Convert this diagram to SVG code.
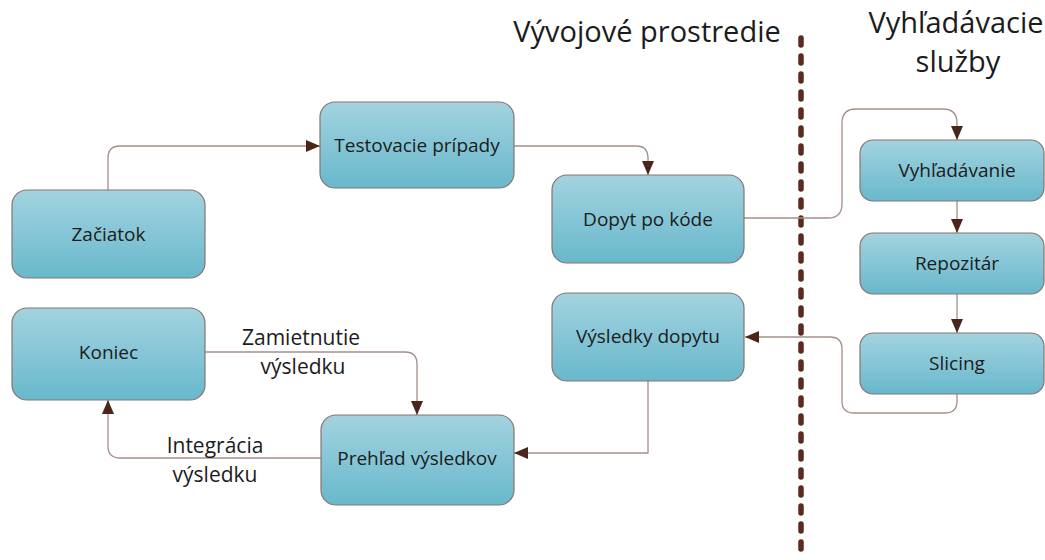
<svg xmlns="http://www.w3.org/2000/svg" width="1045" height="560" viewBox="0 0 1045 560">
  <defs>
    <linearGradient id="boxFill" x1="0" y1="0" x2="0" y2="1">
      <stop offset="0" stop-color="#a3d3df"/>
      <stop offset="1" stop-color="#68b8cc"/>
    </linearGradient>
    <marker id="arrow" viewBox="0 0 14 12" refX="14" refY="6" markerWidth="14" markerHeight="12" markerUnits="userSpaceOnUse" orient="auto">
      <path d="M0,0 L14,6 L0,12 Z" fill="#4b2519"/>
    </marker>
  </defs>
  <style>
    .box { fill: url(#boxFill); stroke: #857470; stroke-width: 1.2; }
    .lbl { font-family: "Open Sans", "Liberation Sans", sans-serif; font-size: 19px; fill: #1c1c1c; text-anchor: middle; dominant-baseline: central; }
    .edge { fill: none; stroke: #a58e89; stroke-width: 1.3; marker-end: url(#arrow); }
    .edgeText { font-family: "Open Sans", "Liberation Sans", sans-serif; font-size: 21px; fill: #1c1c1c; text-anchor: middle; }
    .title { font-family: "Open Sans", "Liberation Sans", sans-serif; font-size: 29px; fill: #1c1c1c; text-anchor: middle; }
  </style>
  <rect width="1045" height="560" fill="#ffffff"/>

  <!-- section titles -->
  <text class="title" x="647" y="42">Vývojové prostredie</text>
  <text class="title" x="956" y="33">Vyhľadávacie</text>
  <text class="title" x="958" y="72">služby</text>

  <!-- boundary between environment and search services -->
  <line x1="801" y1="38" x2="801" y2="560" stroke="#5a2a1e" stroke-width="5.5" stroke-linecap="round" stroke-dasharray="7 11"/>

  <!-- connectors -->
  <g id="connectors">
    <path class="edge" d="M108,190 V158 Q108,146 120,146 H320"/>
    <path class="edge" d="M514,146 H636 Q648,146 648,158 V175"/>
    <path class="edge" d="M744,218 H828 Q842,218 842,204 V123 Q842,109 856,109 H943 Q957,109 957,123 V140"/>
    <path class="edge" d="M957,201 V233"/>
    <path class="edge" d="M957,294 V333"/>
    <path class="edge" d="M957,394 V401 Q957,413 945,413 H854 Q842,413 842,401 V349 Q842,337 830,337 H745"/>
    <path class="edge" d="M648,381 V453 H514"/>
    <path class="edge" d="M205,352 H405 Q417,352 417,364 V415"/>
    <path class="edge" d="M321,458 H120 Q108,458 108,446 V400"/>
  </g>

  <!-- edge labels -->
  <text class="edgeText" x="301" y="345">Zamietnutie</text>
  <text class="edgeText" x="303" y="374">výsledku</text>
  <text class="edgeText" x="215" y="453">Integrácia</text>
  <text class="edgeText" x="215" y="482">výsledku</text>

  <g id="zaciatok">
    <rect class="box" x="12" y="190" width="193" height="88" rx="15"/>
    <text class="lbl" x="108.5" y="234">Začiatok</text>
  </g>
  <g id="testovacie-pripady">
    <rect class="box" x="320" y="102" width="194" height="86" rx="15"/>
    <text class="lbl" x="417" y="145">Testovacie prípady</text>
  </g>
  <g id="dopyt-po-kode">
    <rect class="box" x="552" y="175" width="192" height="88" rx="15"/>
    <text class="lbl" x="648" y="219">Dopyt po kóde</text>
  </g>
  <g id="vysledky-dopytu">
    <rect class="box" x="552" y="293" width="192" height="88" rx="15"/>
    <text class="lbl" x="648" y="336">Výsledky dopytu</text>
  </g>
  <g id="koniec">
    <rect class="box" x="12" y="308" width="193" height="92" rx="15"/>
    <text class="lbl" x="108.5" y="352">Koniec</text>
  </g>
  <g id="prehlad-vysledkov">
    <rect class="box" x="321" y="415" width="193" height="90" rx="15"/>
    <text class="lbl" x="417" y="458">Prehľad výsledkov</text>
  </g>
  <g id="vyhladavanie">
    <rect class="box" x="860" y="140" width="184" height="61" rx="13"/>
    <text class="lbl" x="957" y="170">Vyhľadávanie</text>
  </g>
  <g id="repozitar">
    <rect class="box" x="860" y="233" width="184" height="61" rx="13"/>
    <text class="lbl" x="957" y="263">Repozitár</text>
  </g>
  <g id="slicing">
    <rect class="box" x="860" y="333" width="184" height="61" rx="13"/>
    <text class="lbl" x="957" y="363">Slicing</text>
  </g>
</svg>
